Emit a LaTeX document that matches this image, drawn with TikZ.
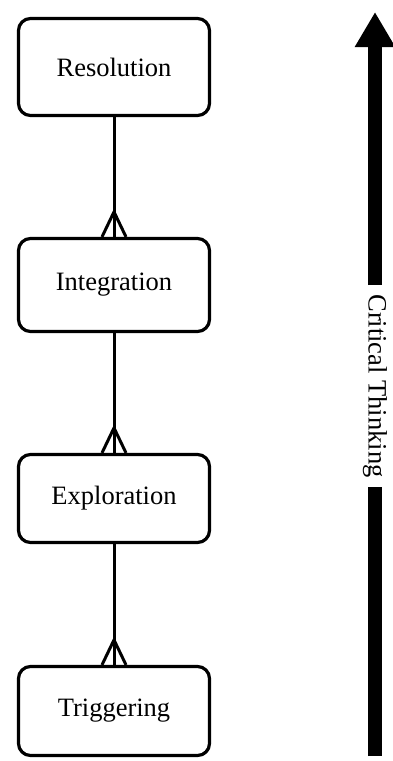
\documentclass[tikz,border=0pt]{standalone}
\usepackage{fontspec}
\setmainfont{Liberation Serif}
\usetikzlibrary{arrows.meta}

\begin{document}
\begin{tikzpicture}[x=1pt, y=1pt,
                    every node/.style={black, font=\fontsize{26.5}{30}\selectfont},
                    stage/.style={draw, line width=3.2pt, rounded corners=12pt,
                                  minimum width=191pt, inner sep=0pt},
                    link/.style={line width=3pt},
                    shaft/.style={line width=13.5pt}]

  \useasboundingbox (0,0) rectangle (392,-761);

  %% 四個階段, 由上而下
  \node[stage, minimum height=97pt] (res)   at (114,-67)   {Resolution};
  \node[stage, minimum height=93pt] (integ) at (114,-285)  {Integration};
  \node[stage, minimum height=88pt] (expl)  at (114,-498.5) {Exploration};
  \node[stage, minimum height=89pt] (trig)  at (114,-711)  {Triggering};

  %% 連線與下端的叉形
  \foreach \up/\down in {res/integ, integ/expl, expl/trig} {
    \draw[link] (\up.south) -- (\down.north);
    \draw[link, line join=miter]
      ([xshift=-12pt]\down.north) -- ([yshift=25pt]\down.north)
                                  -- ([xshift=12pt]\down.north);
  }

  %% 右側的大箭頭
  \node[rotate=-90, inner xsep=9pt] (ct) at (375,-386) {Critical Thinking};
  \coordinate (ctbot) at (375,-756);
  \coordinate (cttop) at (375,-12);
  \draw[shaft] (ctbot) -- (ct.east);
  \draw[shaft, -{Triangle[length=35pt, width=38pt]}] (ct.west) -- (cttop);

\end{tikzpicture}
\end{document}
